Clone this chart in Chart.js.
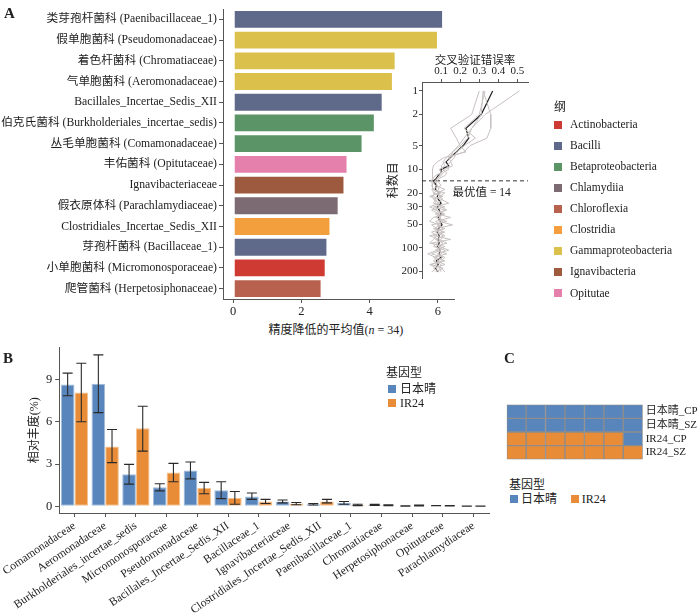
<!DOCTYPE html>
<html>
<head>
<meta charset="utf-8">
<script src="https://cdn.jsdelivr.net/npm/chart.js@4.4.0/dist/chart.umd.min.js"></script>
<style>
  body { margin: 0; width: 700px; height: 616px; position: relative; overflow: hidden; background: #fff;
         font-family: "Liberation Serif", "Noto Sans CJK SC", serif; color: #222; }
  canvas { position: absolute; }
  .txt { position: absolute; white-space: nowrap; }
  .sw { position: absolute; width: 8px; height: 8px; }
  .panel { font-weight: bold; font-size: 15px; }
</style>
</head>
<body>
<canvas id="chartA" width="460" height="319" style="left:0;top:0"></canvas>
<canvas id="chartCV" width="147" height="236" style="left:383px;top:50px"></canvas>
<canvas id="chartB" width="495" height="279" style="left:0;top:337px"></canvas>
<canvas id="chartC" width="200" height="74" style="left:500px;top:395px"></canvas>
<div id="overlay"></div>
<script>
// ---- Panel A: mean decrease in accuracy ----
const familiesA = [
  '类芽孢杆菌科 (Paenibacillaceae_1)', '假单胞菌科 (Pseudomonadaceae)', '着色杆菌科 (Chromatiaceae)',
  '气单胞菌科 (Aeromonadaceae)', 'Bacillales_Incertae_Sedis_XII', '伯克氏菌科 (Burkholderiales_incertae_sedis)',
  '丛毛单胞菌科 (Comamonadaceae)', '丰佑菌科 (Opitutaceae)', 'Ignavibacteriaceae', '假衣原体科 (Parachlamydiaceae)',
  'Clostridiales_Incertae_Sedis_XII', '芽孢杆菌科 (Bacillaceae_1)', '小单胞菌科 (Micromonosporaceae)', '爬管菌科 (Herpetosiphonaceae)'
];
const familyClassA = ['Bacilli', 'Gammaproteobacteria', 'Gammaproteobacteria', 'Gammaproteobacteria', 'Bacilli',
  'Betaproteobacteria', 'Betaproteobacteria', 'Opitutae', 'Ignavibacteria', 'Chlamydiia', 'Clostridia', 'Bacilli',
  'Actinobacteria', 'Chloroflexia'];
const meanDecreaseA = [6.15, 6.0, 4.76, 4.68, 4.38, 4.15, 3.79, 3.35, 3.26, 3.09, 2.85, 2.76, 2.71, 2.59];
const ticksA = [0, 2, 4, 6];
const classNames = ['Actinobacteria', 'Bacilli', 'Betaproteobacteria', 'Chlamydiia', 'Chloroflexia',
  'Clostridia', 'Gammaproteobacteria', 'Ignavibacteria', 'Opitutae'];
const classColors = ['#cf3b33', '#5f6a8b', '#5b9466', '#7d6b74', '#b9614f', '#f39f3e', '#dbc04c', '#9d5a3f', '#e580ad'];

// ---- Inset: cross-validation error vs number of families ----
const cvFamilyCounts = [1, 2, 3, 4, 5, 6, 7, 8, 9, 10, 11, 12, 13, 14, 16, 18, 20, 22, 24, 27, 30, 33, 37, 41,
  46, 51, 57, 63, 70, 78, 87, 96, 107, 119, 132, 147, 163, 182, 202];
const cvErrorMean = [0.37, 0.31, 0.23, 0.245, 0.215, 0.18, 0.15, 0.125, 0.14, 0.10, 0.10, 0.085, 0.075, 0.06,
  0.075, 0.07, 0.09, 0.08, 0.085, 0.1, 0.08, 0.09, 0.1, 0.085, 0.095, 0.105, 0.085, 0.08, 0.09, 0.085, 0.09,
  0.08, 0.095, 0.09, 0.1, 0.075, 0.085, 0.07, 0.085];
const cvErrorRep1 = [0.51, 0.33, 0.26, 0.22, 0.19, 0.16, 0.13, 0.11, 0.12, 0.09, 0.10, 0.07, 0.06, 0.05, 0.07,
  0.12, 0.08, 0.05, 0.10, 0.14, 0.06, 0.12, 0.08, 0.15, 0.07, 0.10, 0.06, 0.12, 0.04, 0.09, 0.13, 0.07, 0.10,
  0.05, 0.11, 0.08, 0.12, 0.06, 0.09];
const cvErrorRep2 = [0.32, 0.36, 0.36, 0.34, 0.25, 0.22, 0.14, 0.15, 0.16, 0.12, 0.10, 0.09, 0.08, 0.07, 0.05,
  0.06, 0.10, 0.04, 0.07, 0.06, 0.12, 0.05, 0.09, 0.07, 0.13, 0.05, 0.08, 0.11, 0.06, 0.15, 0.05, 0.10, 0.07,
  0.13, 0.06, 0.09, 0.05, 0.11, 0.07];
const cvErrorRep3 = [0.30, 0.26, 0.15, 0.18, 0.20, 0.23, 0.12, 0.08, 0.06, 0.055, 0.055, 0.055, 0.055, 0.05,
  0.055, 0.055, 0.06, 0.10, 0.06, 0.09, 0.04, 0.08, 0.12, 0.06, 0.04, 0.09, 0.11, 0.05, 0.08, 0.06, 0.04, 0.12,
  0.08, 0.03, 0.07, 0.12, 0.04, 0.08, 0.05];
const cvErrorRep4 = [0.33, 0.30, 0.22, 0.28, 0.22, 0.18, 0.17, 0.15, 0.13, 0.14, 0.11, 0.10, 0.08, 0.07, 0.08,
  0.09, 0.06, 0.11, 0.08, 0.07, 0.10, 0.13, 0.07, 0.10, 0.09, 0.16, 0.07, 0.09, 0.12, 0.07, 0.11, 0.09, 0.14,
  0.08, 0.12, 0.10, 0.07, 0.10, 0.12];
const cvErrorRep5 = [0.32, 0.31, 0.26, 0.24, 0.20, 0.16, 0.15, 0.12, 0.10, 0.11, 0.13, 0.12, 0.09, 0.08, 0.10,
  0.05, 0.12, 0.09, 0.11, 0.08, 0.09, 0.07, 0.11, 0.09, 0.11, 0.08, 0.12, 0.07, 0.11, 0.10, 0.08, 0.06, 0.12,
  0.10, 0.08, 0.06, 0.10, 0.09, 0.10];
const cvXTicks = [0.1, 0.2, 0.3, 0.4, 0.5];
const cvYTicks = [1, 2, 5, 10, 20, 30, 50, 100, 200];
const bestFamilyCount = 14;

// ---- Panel B: relative abundance by genotype ----
const familiesB = ['Comamonadaceae', 'Aeromonadaceae', 'Burkholderiales_incertae_sedis', 'Micromonosporaceae',
  'Pseudomonadaceae', 'Bacillales_Incertae_Sedis_XII', 'Bacillaceae_1', 'Ignavibacteriaceae',
  'Clostridiales_Incertae_Sedis_XII', 'Paenibacillaceae_1', 'Chromatiaceae', 'Herpetosiphonaceae',
  'Opitutaceae', 'Parachlamydiaceae'];
const abundNip = [8.65, 8.7, 2.28, 1.35, 2.55, 1.15, 0.7, 0.35, 0.15, 0.25, 0.1, 0.03, 0.05, 0.01];
const abundNipLow = [7.85, 6.65, 1.58, 1.1, 1.95, 0.55, 0.5, 0.25, 0.1, 0.15, 0.07, 0.02, 0.04, 0.005];
const abundNipHigh = [9.45, 10.75, 2.98, 1.6, 3.15, 1.75, 0.95, 0.45, 0.2, 0.35, 0.15, 0.04, 0.06, 0.015];
const abundIR = [8.08, 4.25, 5.55, 2.4, 1.3, 0.6, 0.35, 0.2, 0.35, 0.1, 0.08, 0.06, 0.04, 0.01];
const abundIRLow = [6.0, 3.1, 3.92, 1.75, 0.9, 0.15, 0.2, 0.12, 0.25, 0.05, 0.05, 0.03, 0.03, 0.005];
const abundIRHigh = [10.15, 5.45, 7.1, 3.05, 1.7, 1.05, 0.5, 0.28, 0.5, 0.15, 0.12, 0.09, 0.05, 0.015];
const ticksB = [0, 3, 6, 9];
const genotypeNames = ['日本晴', 'IR24'];
const genotypeColors = ['#5886bc', '#e88c38'];
const genotypeEdges = ['#a3bddb', '#f4c28f'];

// ---- Panel C: sample classification grid ----
const sampleLabels = ['日本晴_CP', '日本晴_SZ', 'IR24_CP', 'IR24_SZ'];
const heatCells = [
  [0, 0, 0, 0, 0, 0, 0],
  [0, 0, 0, 0, 0, 0, 0],
  [1, 1, 1, 1, 1, 1, 0],
  [1, 1, 1, 1, 1, 1, 1]
];

const serif = '"Liberation Serif", "Noto Sans CJK SC", serif';
Chart.defaults.font.family = serif;
Chart.defaults.color = '#222';
Chart.defaults.animation = false;
Chart.defaults.plugins.legend.display = false;
Chart.defaults.plugins.tooltip.enabled = false;

const axisGrey = '#555';
const fixTicks = (vals) => (s) => { s.ticks = vals.map(v => ({ value: v })); };

// Panel A bars
new Chart(document.getElementById('chartA'), {
  type: 'bar',
  data: {
    labels: familiesA,
    datasets: [{
      data: meanDecreaseA,
      backgroundColor: familyClassA.map(c => classColors[classNames.indexOf(c)]),
      borderColor: 'rgba(255,255,255,0.5)',
      borderWidth: 1,
      borderSkipped: false,
      barPercentage: 0.91,
      categoryPercentage: 1
    }]
  },
  options: {
    indexAxis: 'y',
    responsive: false,
    layout: { padding: { top: 2.4, right: 6 } },
    scales: {
      x: {
        min: -0.3, max: 6.47,
        afterBuildTicks: fixTicks(ticksA),
        afterFit: s => { s.height = 20; },
        grid: { drawOnChartArea: false, tickLength: 4, color: axisGrey },
        border: { color: axisGrey },
        ticks: { font: { size: 12.5 }, padding: 1, color: '#222' }
      },
      y: {
        afterFit: s => { s.width = 223; },
        grid: { drawOnChartArea: false, tickLength: 4, color: axisGrey, offset: false },
        border: { color: axisGrey },
        ticks: { font: { size: 11.7 }, padding: 2, color: '#222', autoSkip: false }
      }
    }
  }
});

// Inset cross-validation curves
const cvReplicates = [cvErrorRep1, cvErrorRep2, cvErrorRep3, cvErrorRep4, cvErrorRep5];
const toPoints = (errs) => cvFamilyCounts.map((n, i) => ({ x: errs[i], y: n }));
const optimumLabel = {
  id: 'optimumLabel',
  afterDatasetsDraw(chart) {
    const { ctx, scales: { x, y } } = chart;
    ctx.save();
    ctx.font = '11.5px ' + serif;
    ctx.fillStyle = '#222';
    ctx.textBaseline = 'middle';
    ctx.fillText('最优值 = ' + bestFamilyCount, x.getPixelForValue(0.16), y.getPixelForValue(bestFamilyCount) + 12.5);
    ctx.restore();
  }
};
new Chart(document.getElementById('chartCV'), {
  type: 'scatter',
  data: {
    datasets: cvReplicates.map(r => ({
      data: toPoints(r), showLine: true, borderColor: '#c8c1c1', borderWidth: 1, pointRadius: 0
    })).concat([
      { data: toPoints(cvErrorMean), showLine: true, borderColor: '#1e1e1e', borderWidth: 1.2, pointRadius: 0 },
      { data: [{ x: 0, y: bestFamilyCount }, { x: 0.555, y: bestFamilyCount }], showLine: true,
        borderColor: '#333', borderWidth: 1, borderDash: [4, 3], pointRadius: 0 }
    ])
  },
  options: {
    responsive: false,
    layout: { padding: { right: 2, bottom: 3 } },
    scales: {
      x: {
        position: 'top', min: 0, max: 0.555,
        afterBuildTicks: fixTicks(cvXTicks),
        afterFit: s => { s.height = 32; },
        title: { display: true, text: '交叉验证错误率', font: { size: 11.5 }, color: '#222' },
        grid: { drawOnChartArea: false, tickLength: 3, color: axisGrey },
        border: { color: axisGrey },
        ticks: { font: { size: 11 }, padding: 1, color: '#222', callback: v => v.toFixed(1) }
      },
      y: {
        type: 'logarithmic', reverse: true, min: 0.77, max: 245,
        afterBuildTicks: fixTicks(cvYTicks),
        afterFit: s => { s.width = 39; },
        title: { display: true, text: '科数目', font: { size: 12 }, color: '#222' },
        grid: { drawOnChartArea: false, tickLength: 3, color: axisGrey },
        border: { color: axisGrey },
        ticks: { font: { size: 11 }, padding: 1, color: '#222', autoSkip: false, callback: v => String(v) }
      }
    }
  },
  plugins: [optimumLabel]
});

// Panel B grouped bars with error bars
const errorBars = {
  id: 'errorBars',
  afterDatasetsDraw(chart) {
    const { ctx, scales: { y } } = chart;
    ctx.save();
    ctx.strokeStyle = '#2a2a2a';
    ctx.lineWidth = 1.1;
    chart.data.datasets.forEach((ds, di) => {
      chart.getDatasetMeta(di).data.forEach((bar, i) => {
        const lo = y.getPixelForValue(ds.errLow[i]);
        const hi = y.getPixelForValue(ds.errHigh[i]);
        const x = bar.x;
        ctx.beginPath();
        ctx.moveTo(x, lo); ctx.lineTo(x, hi);
        ctx.moveTo(x - 5, lo); ctx.lineTo(x + 5, lo);
        ctx.moveTo(x - 5, hi); ctx.lineTo(x + 5, hi);
        ctx.stroke();
      });
    });
    ctx.restore();
  }
};
new Chart(document.getElementById('chartB'), {
  type: 'bar',
  data: {
    labels: familiesB,
    datasets: [
      { data: abundNip, errLow: abundNipLow, errHigh: abundNipHigh, backgroundColor: genotypeColors[0],
        borderColor: genotypeEdges[0], borderWidth: 1, borderSkipped: false },
      { data: abundIR, errLow: abundIRLow, errHigh: abundIRHigh, backgroundColor: genotypeColors[1],
        borderColor: genotypeEdges[1], borderWidth: 1, borderSkipped: false }
    ]
  },
  options: {
    responsive: false,
    layout: { padding: { left: 22, right: 6 } },
    datasets: { bar: { categoryPercentage: 0.89, barPercentage: 1 } },
    scales: {
      x: {
        afterFit: s => { s.height = 103; },
        grid: { drawOnChartArea: false, tickLength: 4, color: axisGrey, offset: false },
        border: { color: axisGrey },
        ticks: { font: { size: 11.6 }, color: '#222', autoSkip: false, minRotation: 34, maxRotation: 34, padding: 2 }
      },
      y: {
        min: -0.47, max: 11.27,
        afterBuildTicks: fixTicks(ticksB),
        afterFit: s => { s.width = 35; },
        title: { display: true, text: '相对丰度(%)', font: { size: 12 }, color: '#222' },
        grid: { drawOnChartArea: false, tickLength: 4, color: axisGrey },
        border: { color: axisGrey },
        ticks: { font: { size: 12.5 }, padding: 3, color: '#222' }
      }
    }
  },
  plugins: [errorBars]
});

// Panel C grid as stacked horizontal bars
const nCols = heatCells[0].length;
new Chart(document.getElementById('chartC'), {
  type: 'bar',
  data: {
    labels: sampleLabels,
    datasets: heatCells[0].map((_, c) => ({
      data: sampleLabels.map(() => 1),
      backgroundColor: heatCells.map(row => genotypeColors[row[c]]),
      borderColor: '#8d8d8d',
      borderWidth: 1,
      borderSkipped: false,
      barPercentage: 1,
      categoryPercentage: 1
    }))
  },
  options: {
    indexAxis: 'y',
    responsive: false,
    layout: { padding: { left: 6.7, top: 6, bottom: 5.7 } },
    scales: {
      x: { stacked: true, min: 0, max: nCols, display: false },
      y: {
        stacked: true, position: 'right',
        afterFit: s => { s.width = 57.3; },
        grid: { display: false, drawTicks: false, tickLength: 0 },
        border: { display: false },
        ticks: { font: { size: 11 }, padding: 3, color: '#222', autoSkip: false }
      }
    }
  }
});

// ---- HTML text: panel letters, axis title, legends ----
const overlay = document.getElementById('overlay');
function addText(text, left, cy, size, extra) {
  const d = document.createElement('div');
  d.className = 'txt' + (extra ? ' ' + extra : '');
  d.style.left = left + 'px';
  d.style.top = (cy - size * 0.6) + 'px';
  d.style.fontSize = size + 'px';
  d.style.lineHeight = (size * 1.2) + 'px';
  d.innerHTML = text;
  overlay.appendChild(d);
  return d;
}
function addSwatch(color, left, cy) {
  const d = document.createElement('div');
  d.className = 'sw';
  d.style.left = left + 'px';
  d.style.top = (cy - 4) + 'px';
  d.style.background = color;
  overlay.appendChild(d);
}

addText('A', 4, 13, 15, 'panel');
addText('B', 3, 358, 15, 'panel');
addText('C', 504, 358, 15, 'panel');

const titleA = addText('精度降低的平均值(<i>n</i> = 34)', 0, 330, 12);
titleA.style.left = (336 - titleA.offsetWidth / 2) + 'px';

addText('纲', 554, 107, 12);
classNames.forEach((name, i) => {
  const cy = 125 + 21.05 * i;
  addSwatch(classColors[i], 554, cy);
  addText(name, 570, cy, 11.5);
});

addText('基因型', 386, 373, 12);
genotypeNames.forEach((name, i) => {
  const cy = 389.3 + 14 * i;
  addSwatch(genotypeColors[i], 388, cy);
  addText(name, 400, cy, 12);
});

addText('基因型', 509, 485, 12);
genotypeNames.forEach((name, i) => {
  const left = 510 + 60.7 * i;
  addSwatch(genotypeColors[i], left, 499);
  addText(name, left + 11, 499, 12);
});
</script>
</body>
</html>
